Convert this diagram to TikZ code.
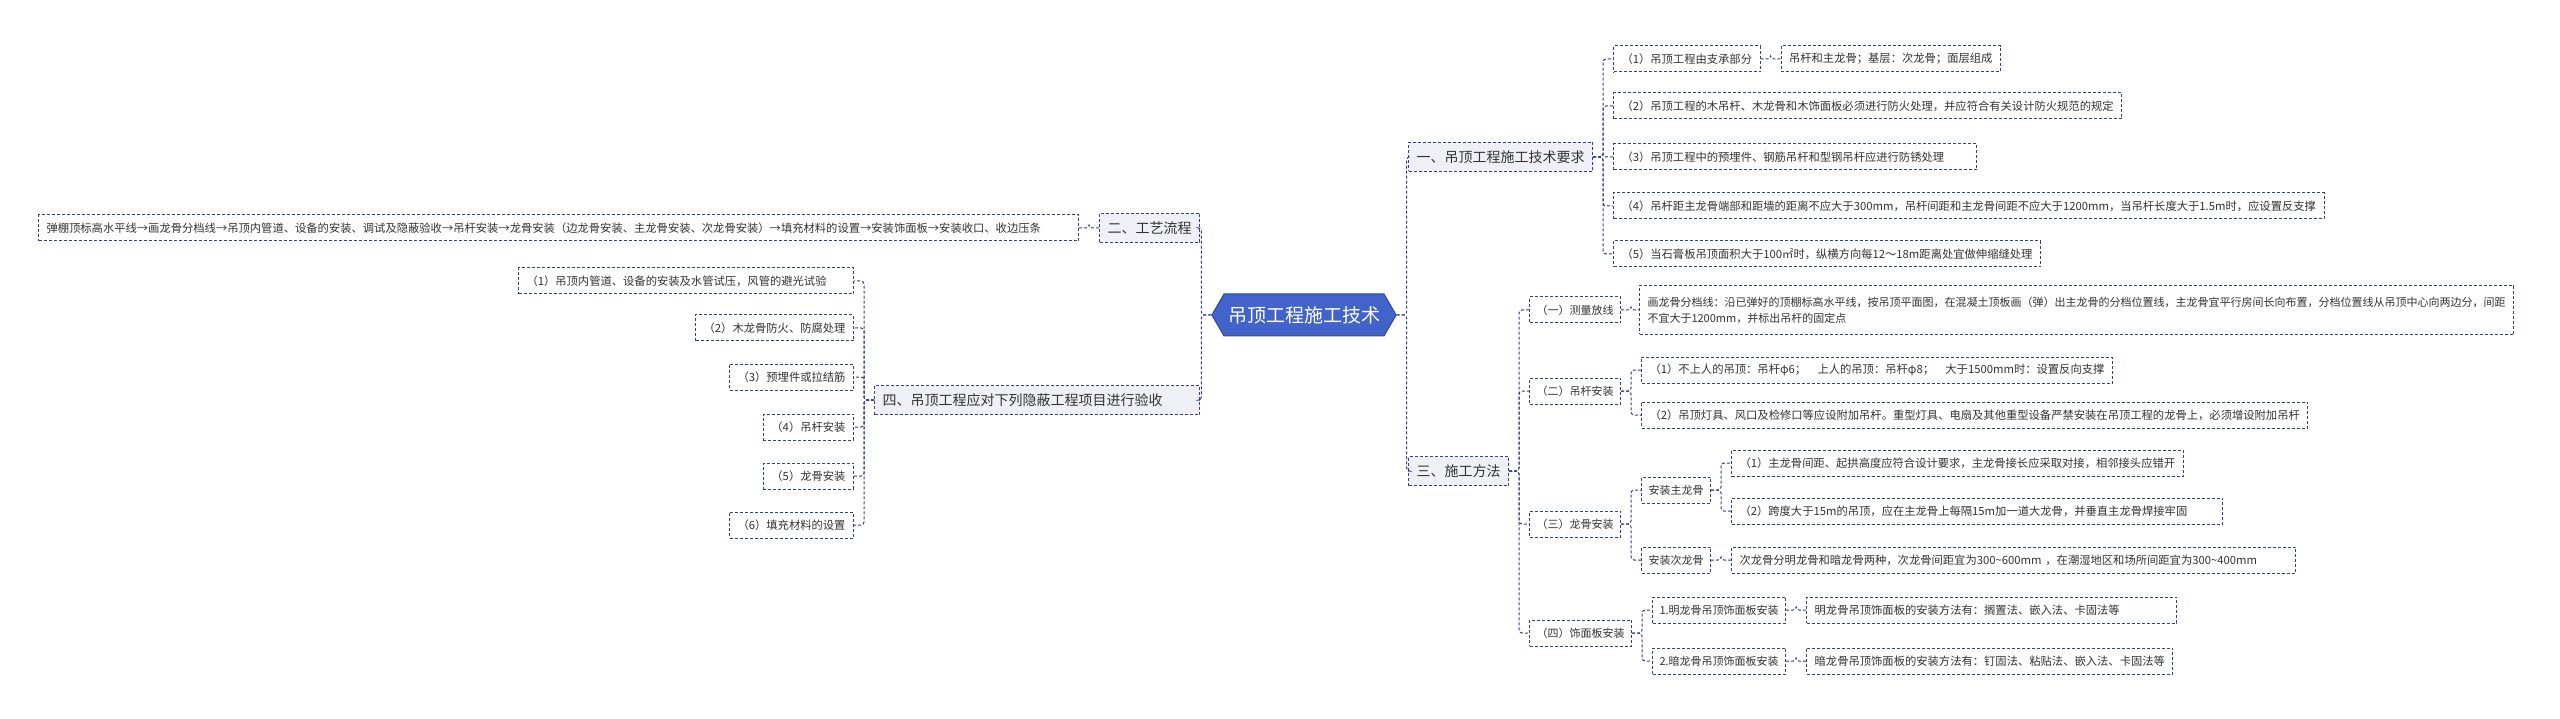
\documentclass[tikz,border=0pt]{standalone}
\usepackage{fontspec}
\setmainfont{Noto Sans CJK SC}
\usetikzlibrary{positioning,shapes.symbols}
\definecolor{linkblue}{HTML}{34408F}
\definecolor{rootblue}{HTML}{4263C9}
\definecolor{branchgray}{HTML}{EEF0F5}
\definecolor{textgray}{HTML}{333333}
\tikzset{
  link/.style={draw=linkblue, line width=1pt, dash pattern=on 3pt off 2pt, rounded corners=3pt},
  box/.style={draw=linkblue, line width=1pt, dash pattern=on 3pt off 2pt, text=textgray, inner xsep=8pt, inner ysep=0pt},
  root/.style={shape=signal, signal to=west and east, signal pointer angle=120, fill=rootblue,
    draw=rootblue!75!black, line width=1pt, text=white, font=\fontsize{19}{23}\selectfont,
    minimum width=172pt, minimum height=42pt, inner xsep=4pt},
  branch/.style={box, fill=branchgray, font=\fontsize{14}{17}\selectfont, minimum height=29pt},
  leaf/.style={box, fill=white, font=\fontsize{11.3}{16}\selectfont, minimum height=26pt},
  tag/.style={leaf, font=\fontsize{11}{16}\selectfont, inner xsep=7pt},
  goright/.style={to path={-- ++(10pt,0) |- (\tikztotarget)}},
  goleft/.style={to path={-- ++(-10pt,0) |- (\tikztotarget)}},
}

\begin{document}
\begin{tikzpicture}[x=1pt, y=-1pt]
  \fill[white] (0,0) rectangle (2560,719);
  \useasboundingbox (0,0) rectangle (2560,719);

  \node[root] (root) at (1304,315) {吊顶工程施工技术};
  \node[branch, anchor=west] (b1) at (1408,157) {一、吊顶工程施工技术要求};
  \node[branch, anchor=west] (b3) at (1408,471) {三、施工方法};
  \node[branch, anchor=east] (b2) at (1200,228) {二、工艺流程};
  \node[branch, anchor=east, text width=309pt, align=left] (b4) at (1200,400) {四、吊顶工程应对下列隐蔽工程项目进行验收};

  \node[leaf, anchor=west, xshift=20pt] (a1) at (b1.east |- 0,59) {（1）吊顶工程由支承部分};
  \node[leaf, right=20pt of a1] (a1x) {吊杆和主龙骨；基层：次龙骨；面层组成};
  \node[leaf, anchor=west, xshift=20pt] (a2) at (b1.east |- 0,106) {（2）吊顶工程的木吊杆、木龙骨和木饰面板必须进行防火处理，并应符合有关设计防火规范的规定};
  \node[leaf, anchor=west, xshift=20pt, text width=347pt, align=left] (a3) at (b1.east |- 0,157) {（3）吊顶工程中的预埋件、钢筋吊杆和型钢吊杆应进行防锈处理};
  \node[leaf, anchor=west, xshift=20pt] (a4) at (b1.east |- 0,206) {（4）吊杆距主龙骨端部和距墙的距离不应大于300mm，吊杆间距和主龙骨间距不应大于1200mm，当吊杆长度大于1.5m时，应设置反支撑};
  \node[leaf, anchor=west, xshift=20pt] (a5) at (b1.east |- 0,254) {（5）当石膏板吊顶面积大于100㎡时，纵横方向每12～18m距离处宜做伸缩缝处理};

  \node[tag, anchor=west, xshift=20pt] (c1) at (b3.east |- 0,310) {（一）测量放线};
  \node[leaf, right=18pt of c1, align=left, minimum height=49pt, font=\fontsize{11}{16}\selectfont] (c1x) {画龙骨分档线：沿已弹好的顶棚标高水平线，按吊顶平面图，在混凝土顶板画（弹）出主龙骨的分档位置线，主龙骨宜平行房间长向布置，分档位置线从吊顶中心向两边分，间距\\不宜大于1200mm，并标出吊杆的固定点};
  \node[tag, anchor=west, xshift=20pt] (c2) at (b3.east |- 0,391) {（二）吊杆安装};
  \node[leaf, anchor=west, xshift=20pt] (d1) at (c2.east |- 0,370) {（1）不上人的吊顶：吊杆φ6；\quad 上人的吊顶：吊杆φ8；\quad 大于1500mm时：设置反向支撑};
  \node[leaf, anchor=west, xshift=20pt] (d2) at (c2.east |- 0,415) {（2）吊顶灯具、风口及检修口等应设附加吊杆。重型灯具、电扇及其他重型设备严禁安装在吊顶工程的龙骨上，必须增设附加吊杆};
  \node[tag, anchor=west, xshift=20pt] (c3) at (b3.east |- 0,524) {（三）龙骨安装};
  \node[tag, anchor=west, xshift=20pt] (e1) at (c3.east |- 0,490) {安装主龙骨};
  \node[leaf, anchor=west, xshift=20pt] (e11) at (e1.east |- 0,463) {（1）主龙骨间距、起拱高度应符合设计要求，主龙骨接长应采取对接，相邻接头应错开};
  \node[leaf, anchor=west, xshift=20pt, text width=475pt, align=left] (e12) at (e1.east |- 0,511) {（2）跨度大于15m的吊顶，应在主龙骨上每隔15m加一道大龙骨，并垂直主龙骨焊接牢固};
  \node[tag, anchor=west, xshift=20pt] (e2) at (c3.east |- 0,560) {安装次龙骨};
  \node[leaf, right=20pt of e2, text width=548pt, align=left] (e2x) {次龙骨分明龙骨和暗龙骨两种，次龙骨间距宜为300\textasciitilde600mm ，在潮湿地区和场所间距宜为300\textasciitilde400mm};
  \node[tag, anchor=west, xshift=20pt] (c4) at (b3.east |- 0,633) {（四）饰面板安装};
  \node[tag, anchor=west, xshift=20pt] (f1) at (c4.east |- 0,610) {1.明龙骨吊顶饰面板安装};
  \node[leaf, right=20pt of f1, text width=354pt, align=left] (f1x) {明龙骨吊顶饰面板的安装方法有：搁置法、嵌入法、卡固法等};
  \node[tag, anchor=west, xshift=20pt] (f2) at (c4.east |- 0,661) {2.暗龙骨吊顶饰面板安装};
  \node[leaf, right=20pt of f2] (f2x) {暗龙骨吊顶饰面板的安装方法有：钉固法、粘贴法、嵌入法、卡固法等};

  \node[leaf, left=20pt of b2, text width=1024pt, align=left] (b2x) {弹棚顶标高水平线→画龙骨分档线→吊顶内管道、设备的安装、调试及隐蔽验收→吊杆安装→龙骨安装（边龙骨安装、主龙骨安装、次龙骨安装）→填充材料的设置→安装饰面板→安装收口、收边压条};

  \node[leaf, anchor=east, xshift=-20pt, text width=319pt, align=left] (g1) at (b4.west |- 0,281) {（1）吊顶内管道、设备的安装及水管试压，风管的避光试验};
  \node[leaf, anchor=east, xshift=-20pt] (g2) at (b4.west |- 0,328) {（2）木龙骨防火、防腐处理};
  \node[leaf, anchor=east, xshift=-20pt] (g3) at (b4.west |- 0,377) {（3）预埋件或拉结筋};
  \node[leaf, anchor=east, xshift=-20pt] (g4) at (b4.west |- 0,427) {（4）吊杆安装};
  \node[leaf, anchor=east, xshift=-20pt] (g5) at (b4.west |- 0,476) {（5）龙骨安装};
  \node[leaf, anchor=east, xshift=-20pt] (g6) at (b4.west |- 0,525) {（6）填充材料的设置};

  \draw[link] (root.east) edge[goright] (b1.west)
              (root.east) edge[goright] (b3.west)
              (root.west) edge[goleft] (b2.east)
              (root.west) edge[goleft] (b4.east)
              (b1.east) edge[goright] (a1.west)
              (a1.east) edge[goright] (a1x.west)
              (b1.east) edge[goright] (a2.west)
              (b1.east) edge[goright] (a3.west)
              (b1.east) edge[goright] (a4.west)
              (b1.east) edge[goright] (a5.west)
              (b3.east) edge[goright] (c1.west)
              (c1.east) edge[goright] (c1x.west)
              (b3.east) edge[goright] (c2.west)
              (c2.east) edge[goright] (d1.west)
              (c2.east) edge[goright] (d2.west)
              (b3.east) edge[goright] (c3.west)
              (c3.east) edge[goright] (e1.west)
              (e1.east) edge[goright] (e11.west)
              (e1.east) edge[goright] (e12.west)
              (c3.east) edge[goright] (e2.west)
              (e2.east) edge[goright] (e2x.west)
              (b3.east) edge[goright] (c4.west)
              (c4.east) edge[goright] (f1.west)
              (f1.east) edge[goright] (f1x.west)
              (c4.east) edge[goright] (f2.west)
              (f2.east) edge[goright] (f2x.west)
              (b2.west) edge[goleft] (b2x.east)
              (b4.west) edge[goleft] (g1.east)
              (b4.west) edge[goleft] (g2.east)
              (b4.west) edge[goleft] (g3.east)
              (b4.west) edge[goleft] (g4.east)
              (b4.west) edge[goleft] (g5.east)
              (b4.west) edge[goleft] (g6.east);
\end{tikzpicture}
\end{document}
